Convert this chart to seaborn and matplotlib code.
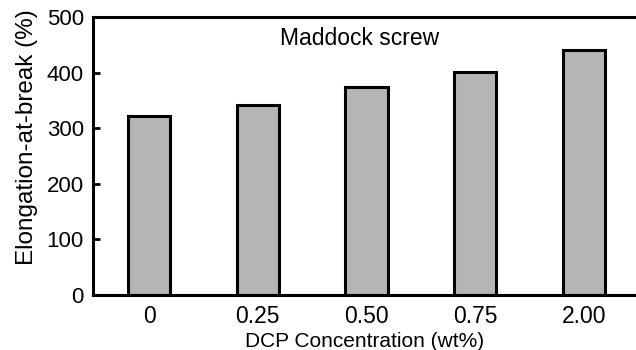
import matplotlib
matplotlib.use("Agg")
import matplotlib.pyplot as plt
import seaborn as sns
import pandas as pd

concentrations = ["0", "0.25", "0.50", "0.75", "2.00"]
elongation = [322, 341, 374, 401, 441]
y_ticks = [0, 100, 200, 300, 400, 500]

sns.set_style("white")
plt.rcParams['font.family'] = ['Liberation Sans', 'DejaVu Sans']
plt.rcParams['text.color'] = 'black'
plt.rcParams['axes.labelcolor'] = 'black'

df = pd.DataFrame({"conc": concentrations, "elong": elongation})

fig = plt.figure(figsize=(6.36, 3.5), dpi=100)
ax = fig.add_axes([93/636, 1 - 295/350, 1 - 93/636, (295 - 17)/350])

sns.barplot(data=df, x="conc", y="elong", color="#b5b5b5", saturation=1,
            edgecolor="black", linewidth=2.2, width=0.39, ax=ax)

ax.set_xlim(-0.515, 4.478)
ax.set_ylim(0, 500)
ax.set_yticks(y_ticks)
ax.set_yticklabels([str(t) for t in y_ticks])

for side in ["left", "top", "bottom"]:
    ax.spines[side].set_visible(True)
    ax.spines[side].set_color("black")
    ax.spines[side].set_linewidth(2.2)
ax.spines["right"].set_visible(False)

ax.tick_params(axis="y", direction="in", length=5, width=2, labelsize=16, pad=6.5,
               colors="black", labelcolor="black", left=True)
ax.tick_params(axis="x", length=0, labelsize=16.5, pad=7, colors="black", labelcolor="black")

ax.set_xlabel("DCP Concentration (wt%)", fontsize=15, labelpad=3, color="black")
ax.set_ylabel("Elongation-at-break (%)", fontsize=17.5, labelpad=6, color="black")
ax.yaxis.label.set_y(0.568)

ax.text(0.491, 0.921, "Maddock screw", transform=ax.transAxes, ha="center", va="center",
        fontsize=16.5, color="black")

fig.savefig("out.png", dpi=100)
